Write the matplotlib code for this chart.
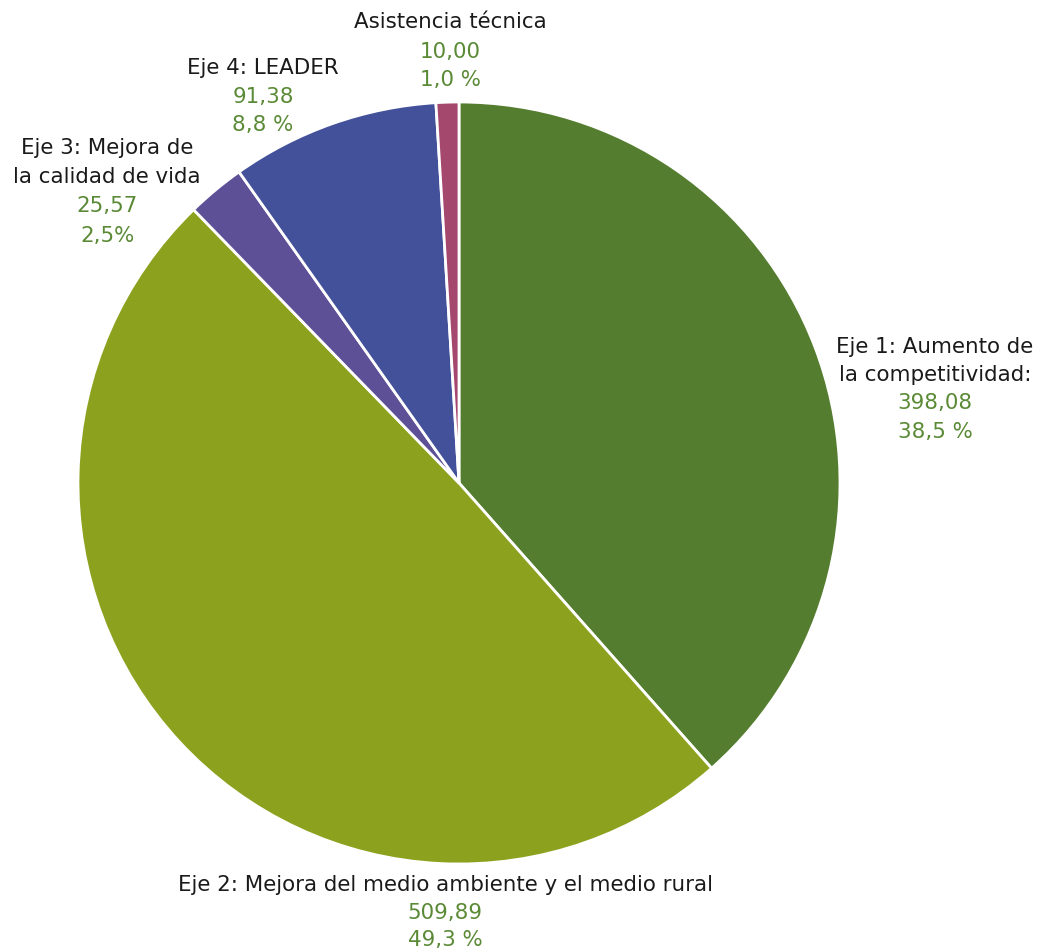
import matplotlib
matplotlib.use("Agg")
import matplotlib.pyplot as plt

categories = ["Eje 1: Aumento de\nla competitividad:",
              "Eje 2: Mejora del medio ambiente y el medio rural",
              "Eje 3: Mejora de\nla calidad de vida",
              "Eje 4: LEADER",
              "Asistencia técnica"]
values = [398.08, 509.89, 25.57, 91.38, 10.00]
value_labels = ["398,08", "509,89", "25,57", "91,38", "10,00"]
pct_labels = ["38,5 %", "49,3 %", "2,5%", "8,8 %", "1,0 %"]
colors = ["#557D2F", "#8CA21F", "#5E5097", "#43509A", "#A4486E"]

W, H = 1037, 951
fig = plt.figure(figsize=(W / 100, H / 100), dpi=100)
ax = fig.add_axes([0, 0, 1, 1])

cx, cy, r = 459, H - 483, 381
ax.pie(values, colors=colors, startangle=90, counterclock=False,
       center=(cx, cy), radius=r, frame=True,
       wedgeprops=dict(edgecolor="white", linewidth=2))
ax.set_xlim(0, W)
ax.set_ylim(0, H)
ax.set_aspect("equal")
ax.axis("off")

font = "DejaVu Sans"
fs = 15.4
black = "#1a1a1a"
green = "#5B8A36"

layout = {
    0: (935, [347, 375], 403, 432),
    1: (445, [885], 913, 940),
    2: (107, [148, 177], 206, 236),
    3: (263, [68], 97, 125),
    4: (450, [22], 52, 80),
}
for i, cat in enumerate(categories):
    x, name_ys, vy, py = layout[i]
    for line, yy in zip(cat.split("\n"), name_ys):
        ax.text(x, H - yy, line, ha="center", va="center", fontsize=fs,
                color=black, family=font)
    ax.text(x, H - vy, value_labels[i], ha="center", va="center",
            fontsize=fs, color=green, family=font)
    ax.text(x, H - py, pct_labels[i], ha="center", va="center",
            fontsize=fs, color=green, family=font)

fig.savefig("out.png", dpi=100, facecolor="white")
